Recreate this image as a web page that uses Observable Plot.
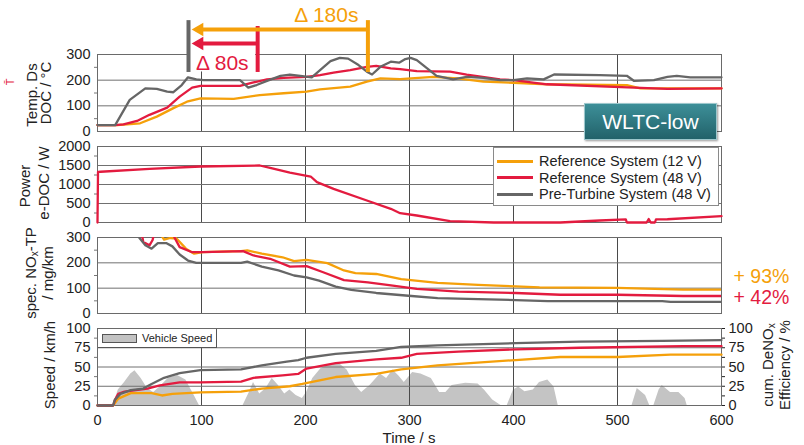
<!DOCTYPE html>
<html><head><meta charset="utf-8">
<script src="https://cdn.jsdelivr.net/npm/d3@7"></script>
<script src="https://cdn.jsdelivr.net/npm/@observablehq/plot@0.6"></script>
<style>
html,body{margin:0;padding:0;background:#fff;}
#chart{position:relative;width:804px;height:445px;overflow:hidden;font-family:"Liberation Sans",Arial,sans-serif;color:#222;}
#chart svg{position:absolute;left:0;}
.rot{position:absolute;transform:translate(-50%,-50%) rotate(-90deg);white-space:nowrap;font-size:15px;line-height:1;}
.hz{position:absolute;transform:translate(-50%,-50%);white-space:nowrap;font-size:15px;line-height:1;}
sub{font-size:10px;vertical-align:-2px;}
#legend{position:absolute;left:493px;top:147px;width:226px;height:59px;background:#fff;border:1px solid #8a8a8a;box-sizing:border-box;padding-top:5px;}
#legend .row{display:flex;align-items:center;height:16.5px;font-size:14.5px;white-space:nowrap;}
#legend .sw{width:36px;height:3px;margin-left:3px;margin-right:6px;flex:none;}
#vleg{position:absolute;left:98px;top:329px;width:119px;height:19px;background:#fff;border-right:1px solid #555;border-bottom:1px solid #555;box-sizing:border-box;display:flex;align-items:center;font-size:11px;white-space:nowrap;}
#vleg .sw{width:35px;height:9px;background:#c2c2c2;border:1px solid #555;margin-left:4px;margin-right:5px;flex:none;box-sizing:border-box;}
#wltc{position:absolute;left:584px;top:103px;width:133px;height:37px;box-sizing:border-box;background:linear-gradient(#3d8f98,#22626a);border:1px solid #9cc7cc;box-shadow:1px 1px 2px rgba(0,0,0,0.4);color:#fff;font-size:21px;display:flex;align-items:center;justify-content:center;}
</style></head>
<body><div id="chart"></div>
<script>
// ---------- data ----------
const seriesNames = ["Reference System (12 V)", "Reference System (48 V)", "Pre-Turbine System (48 V)"];
const seriesColors = ["#f5a00a", "#e31b3f", "#666666"];

const timeTicks = [0,100,200,300,400,500,600];
const timeGrid = [100,200,300,400,500];
const tempTicks = [0,100,200,300], tempMinor = [50,150,250];
const powerTicks = [0,500,1000,1500,2000], powerMinor = [250,750,1250,1750];
const noxTicks = [0,100,200,300], noxMinor = [50,150,250];
const speedTicks = [0,25,50,75,100], speedMinor = [12.5,37.5,62.5,87.5];

// DOC downstream temperature [s, °C]
const tempRef12 = [[0,25],[19,25],[41,32],[57,58],[73,91],[86,116],[99,129],[131,127],[156,142],[179,149],[201,155],[214,164],[243,175],[259,194],[272,207],[291,204],[323,213],[346,207],[371,194],[400,190],[432,184],[509,181],[522,168],[600,168]];
const tempRef48 = [[0,25],[17,25],[25,28],[38,41],[50,65],[67,93],[79,136],[91,171],[99,178],[137,178],[150,191],[163,203],[179,209],[201,213],[214,220],[227,229],[243,239],[259,252],[268,256],[282,246],[291,243],[307,235],[339,233],[355,222],[387,203],[400,200],[432,184],[516,171],[548,166],[600,168]];
const tempPre48 = [[0,25],[17,25],[31,123],[46,168],[57,166],[67,155],[73,153],[81,181],[87,211],[95,203],[102,200],[137,200],[145,171],[153,181],[163,197],[176,217],[185,222],[195,217],[206,211],[214,239],[224,274],[233,287],[241,284],[251,259],[259,233],[264,222],[272,252],[282,272],[290,268],[296,282],[301,287],[307,278],[317,246],[326,217],[342,203],[355,213],[371,209],[387,200],[400,200],[413,207],[429,203],[439,222],[483,220],[509,217],[516,197],[535,200],[548,213],[557,217],[570,211],[600,211]];

// e-DOC power [s, W]
const powerRef48 = [[0,0],[0.5,1330],[3,1335],[50,1410],[99,1474],[156,1500],[166,1440],[185,1310],[205,1210],[211,1061],[227,886],[259,579],[282,360],[291,245],[307,184],[339,35],[381,0],[445,0],[483,53],[508,80],[509,0],[528,0],[530,90],[532,0],[536,0],[537,80],[548,85],[600,167]];

// spec. NOx tailpipe [s, mg/km]
const noxRef12 = [[58,330],[64,292],[70,298],[76,296],[85,256],[93,236],[101,242],[138,246],[144,249],[158,236],[178,222],[189,207],[201,212],[221,199],[237,170],[248,159],[268,156],[292,136],[327,121],[366,113],[402,107],[425,103],[500,101],[563,94],[600,94]];
const noxRef48 = [[42,330],[44,282],[50,269],[53,290],[55,330],[72,330],[74,300],[79,262],[91,242],[101,242],[140,246],[150,229],[166,216],[185,185],[201,187],[217,163],[237,132],[260,123],[284,110],[307,97],[347,86],[402,81],[445,74],[500,74],[563,69],[600,69]];
const noxPre48 = [[38,330],[40,300],[46,269],[52,256],[58,278],[66,278],[72,265],[79,233],[87,209],[95,200],[138,200],[144,205],[158,185],[174,170],[189,150],[201,143],[213,130],[229,106],[244,93],[268,81],[299,70],[327,61],[366,57],[402,53],[433,49],[543,49],[551,46],[600,46]];

// vehicle speed [s, km/h]
const vehSpeed = [[0,0],[15,0],[20,20],[26,30],[32,41],[36,45],[42,35],[48,22],[54,17],[60,24],[68,35],[77,39],[85,33],[93,13],[98,0],[140,0],[146,17],[150,30],[156,15],[162,22],[168,35],[174,26],[180,15],[185,20],[191,13],[197,9],[201,17],[207,35],[215,48],[225,54],[233,54],[240,46],[248,26],[254,17],[262,26],[272,41],[278,35],[284,46],[290,38],[295,30],[303,43],[311,41],[321,35],[329,17],[335,17],[341,26],[354,29],[366,28],[372,20],[380,7],[388,0],[394,0],[400,20],[405,24],[411,18],[419,20],[425,30],[433,33],[439,24],[443,0],[514,0],[519,22],[527,13],[531,0],[535,0],[540,20],[543,26],[551,17],[559,17],[565,9],[567,0],[600,0]];

// cumulative DeNOx efficiency [s, %]
const effRef12 = [[0,0],[15,0],[20,9],[32,16],[52,16],[62,13],[72,15],[99,17],[138,18],[158,22],[185,25],[197,28],[229,37],[268,41],[292,47],[327,52],[402,59],[445,63],[500,63],[551,66],[600,66]];
const effRef48 = [[0,0],[15,0],[17,8],[20,15],[26,18],[48,22],[60,26],[79,30],[99,30],[138,31],[150,36],[178,39],[193,41],[201,48],[229,55],[268,60],[292,62],[307,67],[347,70],[402,73],[464,75],[563,77],[600,77]];
const effPre48 = [[0,0],[15,0],[16.5,7],[22,15],[32,20],[44,22],[52,28],[64,36],[79,42],[99,46],[138,47],[158,52],[182,57],[193,59],[201,62],[229,67],[268,71],[292,76],[327,78],[402,81],[464,83],[543,84],[600,85]];

// annotations (data units of the temperature panel)
const deltaBars = [{t:87.5, y1:230, y2:432, s:2}, {t:260, y1:230, y2:432, s:0}, {t:154, y1:230, y2:409, s:1}];
const deltaArrows = [{from:260, to:98, y:397, s:0}, {from:154, to:98, y:343, s:1}];
const deltaLabels = [{t:220, y:452, text:"Δ 180s", s:0}, {t:120, y:265, text:"Δ 80s", s:1}];
const deltaBox = [{x1:89, x2:152, y1:232, y2:318}];
const pctLabels = [{y:147, text:"+ 93%", s:0}, {y:63, text:"+ 42%", s:1}];

// ---------- drawing ----------
const chart = document.getElementById("chart");
const X = d => d[0], Y = d => d[1];
const fmt = d => String(d);
const col = d => seriesColors[d.s];

function lines(arrs, extra = {}) {
  return arrs.map((a, i) => Plot.line(a, {x: X, y: Y, stroke: seriesColors[i], strokeWidth: 2.3, ...extra}));
}

function panel(cfg) {
  const marks = [
    ...(cfg.under || []),
    Plot.gridX(timeGrid, {stroke: "#4a4a4a", strokeOpacity: 1}),
    Plot.gridY(cfg.ticks, {stroke: "#707070", strokeOpacity: 1}),
    Plot.frame({stroke: "#6a6a6a"}),
    Plot.axisY(cfg.ticks, {tickSize: 0, tickPadding: 7, label: null, tickFormat: fmt}),
    Plot.axisY(cfg.minor, {tickSize: 3, tickFormat: () => "", label: null, stroke: "#777"}),
    ...(cfg.marks || [])
  ];
  const svg = Plot.plot({
    width: 804, height: cfg.height, marginTop: cfg.mt, marginBottom: cfg.mb, marginLeft: 97, marginRight: 83,
    x: {domain: [0, 600], axis: null}, y: {domain: cfg.domain, axis: null},
    style: {fontFamily: "'Liberation Sans', Arial, sans-serif", fontSize: "14.5px", color: "#222", background: "transparent", overflow: "visible"},
    marks
  });
  svg.style.top = cfg.top + "px";
  chart.appendChild(svg);
}

// Panel 1: temperature
panel({
  top: 0, height: 135, mt: 54, mb: 4, domain: [0, 300], ticks: tempTicks, minor: tempMinor,
  marks: [
    ...lines([tempRef12, tempRef48, tempPre48]),
    Plot.rect(deltaBox, {x1: "x1", x2: "x2", y1: "y1", y2: "y2", fill: "white"}),
    Plot.ruleX(deltaBars, {x: "t", y1: "y1", y2: "y2", stroke: col, strokeWidth: 4}),
    Plot.ruleY(deltaArrows, {y: "y", x1: "from", x2: "to", stroke: col, strokeWidth: 4}),
    Plot.dot(deltaArrows, {x: "to", y: "y", symbol: "triangle", rotate: -90, r: 5, fill: col, stroke: null}),
    Plot.text(deltaLabels, {x: "t", y: "y", text: "text", fill: col, fontSize: 21})
  ]
});

// Panel 2: power
panel({
  top: 135, height: 91, mt: 11, mb: 4, domain: [0, 2000], ticks: powerTicks, minor: powerMinor,
  marks: [Plot.line(powerRef48, {x: X, y: Y, stroke: seriesColors[1], strokeWidth: 2.3})]
});

// Panel 3: NOx
panel({
  top: 226, height: 91, mt: 11, mb: 4, domain: [0, 300], ticks: noxTicks, minor: noxMinor,
  marks: [
    ...lines([noxRef12, noxRef48, noxPre48], {clip: true}),
    Plot.text(pctLabels, {x: () => 600, y: "y", text: "text", fill: col, fontSize: 19.5, textAnchor: "start", dx: 12})
  ]
});

// Panel 4: speed + efficiency
panel({
  top: 317, height: 128, mt: 11, mb: 40, domain: [0, 100], ticks: speedTicks, minor: speedMinor,
  under: [Plot.areaY(vehSpeed, {x: X, y: Y, fill: "#c4c4c4"})],
  marks: [
    Plot.axisY(speedTicks, {anchor: "right", tickSize: 3, tickPadding: 4, label: null, tickFormat: fmt}),
    Plot.axisY(speedMinor, {anchor: "right", tickSize: 3, tickFormat: () => "", label: null}),
    Plot.axisX(timeTicks, {tickSize: 0, tickPadding: 9, label: null, tickFormat: fmt}),
    ...lines([effRef12, effRef48, effPre48])
  ]
});

// ---------- HTML overlays: titles, legends ----------
function addText(html, cx, cy, cls, extraStyle = "") {
  const d = document.createElement("div");
  d.className = cls; d.innerHTML = html;
  d.style.cssText = `left:${cx}px;top:${cy}px;${extraStyle}`;
  chart.appendChild(d);
}
addText("T̄", 10, 82, "rot", "color:#e31b3f;font-size:11px;");
addText("Temp. Ds", 31, 95, "rot");
addText("DOC / °C", 45, 93, "rot");
addText("Power", 24, 186, "rot");
addText("e-DOC / W", 43, 183, "rot");
addText("spec. NO<sub>x</sub>-TP", 31, 273, "rot");
addText("/ mg/km", 47, 273, "rot");
addText("Speed / km/h", 49, 365, "rot");
addText("cum. DeNO<sub>x</sub>", 768, 365, "rot");
addText("Efficiency / %", 784, 365, "rot");
addText("Time / s", 409, 437, "hz");

const leg = document.createElement("div");
leg.id = "legend";
seriesNames.forEach((n, i) => {
  const r = document.createElement("div"); r.className = "row";
  r.innerHTML = `<span class="sw" style="background:${seriesColors[i]}"></span><span>${n}</span>`;
  leg.appendChild(r);
});
chart.appendChild(leg);

const vleg = document.createElement("div");
vleg.id = "vleg";
vleg.innerHTML = `<span class="sw"></span><span>Vehicle Speed</span>`;
chart.appendChild(vleg);

const w = document.createElement("div");
w.id = "wltc"; w.textContent = "WLTC-low";
chart.appendChild(w);
</script>
</body></html>
